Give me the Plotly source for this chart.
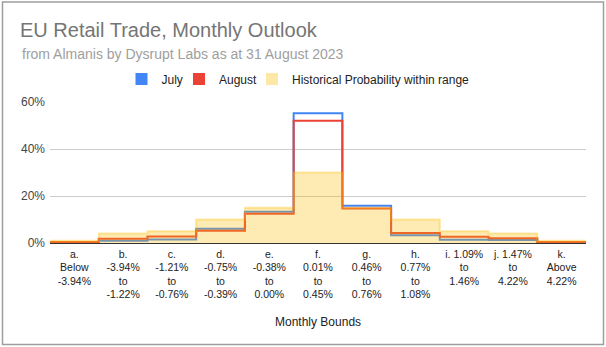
import plotly.graph_objects as go

# ---- data ----
categories = [
    "a.<br>Below<br>-3.94%",
    "b.<br>-3.94%<br>to<br>-1.22%",
    "c.<br>-1.21%<br>to<br>-0.76%",
    "d.<br>-0.75%<br>to<br>-0.39%",
    "e.<br>-0.38%<br>to<br>0.00%",
    "f.<br>0.01%<br>to<br>0.45%",
    "g.<br>0.46%<br>to<br>0.76%",
    "h.<br>0.77%<br>to<br>1.08%",
    "i. 1.09%<br>to<br>1.46%",
    "j. 1.47%<br>to<br>4.22%",
    "k.<br>Above<br>4.22%",
]
july = [0.4, 1.0, 1.5, 6.1, 13.3, 55.2, 15.9, 3.3, 1.4, 1.3, 0.4]
august = [0.4, 1.8, 2.8, 5.2, 12.5, 52.0, 14.7, 4.3, 2.7, 2.0, 0.4]
historical = [1, 4, 5, 10, 15, 30, 15, 10, 5, 4, 1]
y_ticks = [0, 20, 40, 60]
y_tick_text = ["0%", "20%", "40%", "60%"]

series_names = ["July", "August", "Historical Probability within range"]

title = "EU Retail Trade, Monthly Outlook"
subtitle = "from Almanis by Dysrupt Labs as at 31 August 2023"
x_title = "Monthly Bounds"

BLUE = "#4285f4"
RED = "#ea4335"
YEL_FILL = "rgba(251,188,4,0.30)"
YEL_LINE = "rgba(251,188,4,0.35)"
YEL_KEY = "rgba(251,188,4,0.35)"
FONT = "Arial, Liberation Sans, sans-serif"

n = len(categories)
centers = list(range(n))
edges = [c - 0.5 for c in centers] + [n - 0.5]


def step(vals):
    return list(vals) + [vals[-1]]


# layout pixel geometry
W, H = 606, 347
ML, MR, MT, MB = 50, 20, 102, 104
PW = W - ML - MR
PH = H - MT - MB


def px_x(p):
    return (p - ML) / PW


def px_y(p):
    return (H - MB - p) / PH


fig = go.Figure()

fig.add_trace(go.Scatter(x=edges, y=step(july), mode="lines", line_shape="hv",
                         line=dict(color=BLUE, width=2), showlegend=False,
                         hoverinfo="skip"))
fig.add_trace(go.Scatter(x=edges, y=step(august), mode="lines", line_shape="hv",
                         line=dict(color=RED, width=2), showlegend=False,
                         hoverinfo="skip"))
fig.add_trace(go.Scatter(x=edges, y=step(historical), mode="lines", line_shape="hv",
                         line=dict(color=YEL_LINE, width=2), fill="tozeroy",
                         fillcolor=YEL_FILL, showlegend=False, hoverinfo="skip"))

# legend keys (one legend box per entry, placed like the original)
legend_ids = ["legend", "legend2", "legend3"]
key_colors = [BLUE, RED, YEL_KEY]
key_centers_px = [141.5, 199.0, 272.0]
for name, col, lid in zip(series_names, key_colors, legend_ids):
    fig.add_trace(go.Bar(x=[None], y=[None], name=name, marker_color=col,
                         marker_line_width=0, showlegend=True, legend=lid))

legend_layout = {}
for lid, cx in zip(legend_ids, key_centers_px):
    legend_layout[lid] = dict(
        orientation="h", x=(cx - 20) / W, xref="container", xanchor="left",
        y=1 - 79 / H, yref="container", yanchor="middle",
        font=dict(size=12, color="#222"), itemclick=False,
        bgcolor="rgba(0,0,0,0)", borderwidth=0)

fig.update_layout(
    width=W, height=H,
    margin=dict(l=ML, r=MR, t=MT, b=MB, pad=0, autoexpand=False),
    paper_bgcolor="white", plot_bgcolor="white",
    font=dict(family=FONT, size=12, color="#222"),
    title=dict(text=title, x=20 / W, xref="container", xanchor="left",
               y=1 - 30 / H, yref="container", yanchor="middle",
               font=dict(size=20, color="#757575", family=FONT)),
    xaxis=dict(range=[-0.5, n - 0.5], tickmode="array", tickvals=centers,
               ticktext=categories, showgrid=False, zeroline=False,
               showline=False, ticks="", tickangle=0, ticklabelstandoff=3,
               tickfont=dict(size=10.5, color="#222"), fixedrange=True),
    yaxis=dict(range=[0, 60], tickmode="array", tickvals=y_ticks,
               ticktext=y_tick_text, showgrid=True, gridcolor="#cccccc",
               gridwidth=1, zeroline=True, zerolinecolor="#333333",
               zerolinewidth=1, showline=False, ticks="",
               tickfont=dict(size=12, color="#444"), ticklabelstandoff=4,
               fixedrange=True),
    annotations=[
        dict(text=subtitle, xref="paper", yref="paper", x=px_x(20), y=px_y(54),
             xanchor="left", yanchor="middle", showarrow=False,
             font=dict(size=14, color="#9e9e9e", family=FONT)),
        dict(text=x_title, xref="paper", yref="paper", x=0.5, y=px_y(322),
             xanchor="center", yanchor="middle", showarrow=False,
             font=dict(size=12, color="#222", family=FONT)),
    ],
    shapes=[
        dict(type="rect", xref="paper", yref="paper",
             x0=px_x(2.5), x1=px_x(603.5), y0=px_y(2), y1=px_y(344.5),
             line=dict(color="#9e9e9e", width=1.5), fillcolor="rgba(0,0,0,0)",
             layer="below"),
    ],
    showlegend=True,
    **legend_layout,
)

fig.write_html("out.html")
